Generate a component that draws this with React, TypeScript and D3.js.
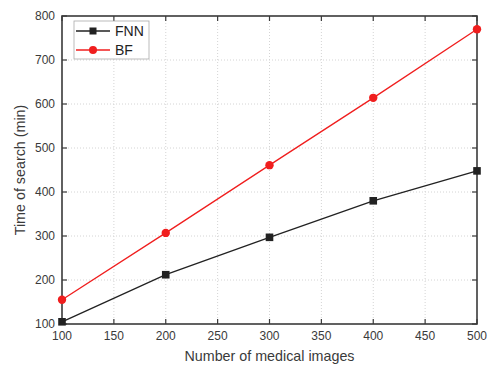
import React, { useEffect, useRef } from 'react';
import * as d3 from 'd3';

const images = [100, 200, 300, 400, 500];
const fnnTime = [105, 212, 297, 380, 448];
const bfTime = [155, 307, 461, 614, 770];
const xTicks = [100, 150, 200, 250, 300, 350, 400, 450, 500];
const yTicks = [100, 200, 300, 400, 500, 600, 700, 800];

const App: React.FC = () => {
  const svgRef = useRef<SVGSVGElement | null>(null);

  useEffect(() => {
    if (!svgRef.current) return;
    const width = 489;
    const height = 369;
    const margin = { top: 16, right: 12, bottom: 45, left: 62 };
    const font = 'Liberation Sans, Arial, sans-serif';

    const svg = d3.select(svgRef.current);
    svg.selectAll('*').remove();

    const x = d3.scaleLinear().domain([100, 500]).range([margin.left, width - margin.right]);
    const y = d3.scaleLinear().domain([100, 800]).range([height - margin.bottom, margin.top]);
    const [x0, x1] = x.range();
    const [y0, y1] = y.range();

    // 그리드
    const grid = svg.append('g');
    grid.selectAll('line.gx')
      .data(xTicks.slice(1, -1))
      .join('line')
      .attr('x1', d => x(d)).attr('x2', d => x(d))
      .attr('y1', y0).attr('y2', y1)
      .attr('stroke', '#d4d4d4').attr('stroke-dasharray', '1,2');
    grid.selectAll('line.gy')
      .data(yTicks.slice(1, -1))
      .join('line')
      .attr('x1', x0).attr('x2', x1)
      .attr('y1', d => y(d)).attr('y2', d => y(d))
      .attr('stroke', '#d4d4d4').attr('stroke-dasharray', '1,2');

    // 축 (안쪽 눈금)
    const axisColor = '#3a3a3a';
    const tl = 5;
    const ticks = svg.append('g').attr('stroke', axisColor).attr('stroke-width', 1.2);
    xTicks.forEach(t => {
      ticks.append('line').attr('x1', x(t)).attr('x2', x(t)).attr('y1', y0).attr('y2', y0 - tl);
      ticks.append('line').attr('x1', x(t)).attr('x2', x(t)).attr('y1', y1).attr('y2', y1 + tl);
    });
    yTicks.forEach(t => {
      ticks.append('line').attr('x1', x0).attr('x2', x0 + tl).attr('y1', y(t)).attr('y2', y(t));
      ticks.append('line').attr('x1', x1).attr('x2', x1 - tl).attr('y1', y(t)).attr('y2', y(t));
    });

    svg.append('rect')
      .attr('x', x0).attr('y', y1)
      .attr('width', x1 - x0).attr('height', y0 - y1)
      .attr('fill', 'none').attr('stroke', axisColor).attr('stroke-width', 1.6);

    svg.append('g').selectAll('text')
      .data(xTicks)
      .join('text')
      .attr('x', d => x(d)).attr('y', y0 + 16)
      .attr('text-anchor', 'middle')
      .attr('font-family', font).attr('font-size', 12).attr('fill', '#3a3a3a')
      .text(d => d);

    svg.append('g').selectAll('text')
      .data(yTicks)
      .join('text')
      .attr('x', x0 - 7).attr('y', d => y(d) + 4)
      .attr('text-anchor', 'end')
      .attr('font-family', font).attr('font-size', 12).attr('fill', '#3a3a3a')
      .text(d => d);

    svg.append('text')
      .attr('x', (x0 + x1) / 2).attr('y', height - 8)
      .attr('text-anchor', 'middle')
      .attr('font-family', font).attr('font-size', 14.3).attr('fill', '#3a3a3a')
      .text('Number of medical images');

    svg.append('text')
      .attr('transform', `translate(25,${(y0 + y1) / 2}) rotate(-90)`)
      .attr('text-anchor', 'middle')
      .attr('font-family', font).attr('font-size', 14.3).attr('fill', '#3a3a3a')
      .text('Time of search (min)');

    // 시리즈
    const line = d3.line<number>().x((_, i) => x(images[i])).y(d => y(d));
    const series = [
      { name: 'FNN', values: fnnTime, color: '#222222', shape: 'square' },
      { name: 'BF', values: bfTime, color: '#f01e1e', shape: 'circle' },
    ];

    series.forEach(s => {
      svg.append('path')
        .datum(s.values)
        .attr('d', line)
        .attr('fill', 'none').attr('stroke', s.color).attr('stroke-width', 1.3);
      const g = svg.append('g');
      s.values.forEach((v, i) => {
        if (s.shape === 'square') {
          g.append('rect')
            .attr('x', x(images[i]) - 3.8).attr('y', y(v) - 3.8)
            .attr('width', 7.6).attr('height', 7.6)
            .attr('fill', s.color);
        } else {
          g.append('circle')
            .attr('cx', x(images[i])).attr('cy', y(v)).attr('r', 4.2)
            .attr('fill', s.color);
        }
      });
    });

    // 범례
    const lg = svg.append('g');
    lg.append('rect')
      .attr('x', 74).attr('y', 21).attr('width', 75).attr('height', 38)
      .attr('fill', 'white').attr('stroke', '#aaa').attr('stroke-width', 0.8);
    series.forEach((s, i) => {
      const ly = 31 + i * 19;
      lg.append('line')
        .attr('x1', 76).attr('x2', 110).attr('y1', ly).attr('y2', ly)
        .attr('stroke', s.color).attr('stroke-width', 1.3);
      if (s.shape === 'square') {
        lg.append('rect').attr('x', 93 - 3.5).attr('y', ly - 3.5).attr('width', 7).attr('height', 7).attr('fill', s.color);
      } else {
        lg.append('circle').attr('cx', 93).attr('cy', ly).attr('r', 4).attr('fill', s.color);
      }
      lg.append('text')
        .attr('x', 115).attr('y', ly + 5)
        .attr('font-family', font).attr('font-size', 14).attr('fill', '#222')
        .text(s.name);
    });
  }, []);

  return (
    <svg ref={svgRef} width={489} height={369} style={{ position: 'absolute', left: 0, top: 0, background: 'white' }} />
  );
};

export default App;
